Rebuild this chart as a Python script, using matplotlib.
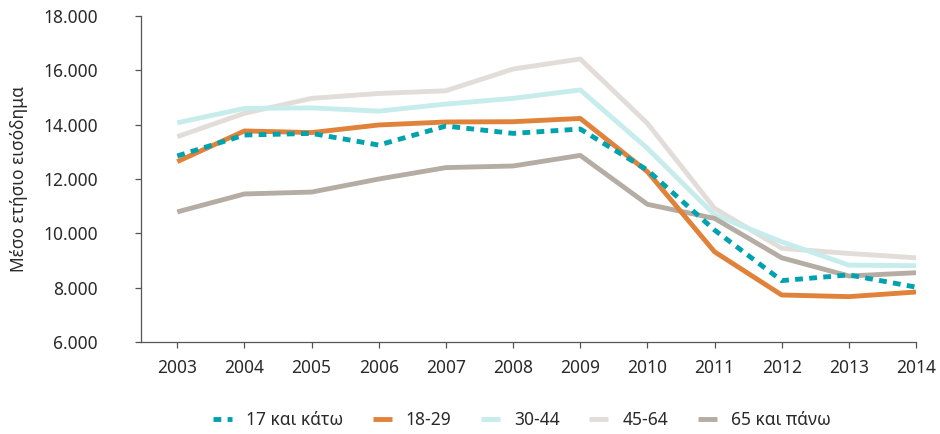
import matplotlib.pyplot as plt
from matplotlib.ticker import FuncFormatter

plt.rcParams['font.family'] = ['Noto Sans', 'DejaVu Sans']

years = [2003, 2004, 2005, 2006, 2007, 2008, 2009, 2010, 2011, 2012, 2013, 2014]

# μέσο ετήσιο εισόδημα ανά ηλικιακή ομάδα
age_17 = [12850, 13620, 13680, 13250, 13950, 13680, 13840, 12330, 10120, 8260, 8470, 8020]
age_18_29 = [12640, 13770, 13710, 13990, 14100, 14110, 14230, 12270, 9320, 7730, 7670, 7840]
age_30_44 = [14070, 14600, 14620, 14500, 14760, 14970, 15280, 13130, 10680, 9690, 8830, 8810]
age_45_64 = [13560, 14420, 14970, 15150, 15250, 16050, 16420, 14050, 10920, 9450, 9260, 9100]
age_65 = [10790, 11450, 11520, 12000, 12420, 12480, 12870, 11070, 10550, 9100, 8430, 8550]

labels = ['17 και κάτω', '18-29', '30-44', '45-64', '65 και πάνω']
colors = ['#00A3AD', '#E0823A', '#C6ECEC', '#E2DDD9', '#B5ADA4']

fig = plt.figure(figsize=(9.4, 4.34), dpi=100)
ax = fig.add_axes([0.15, 0.212, 0.8245, 0.751])

lw = 3.5
h45, = ax.plot(years, age_45_64, color=colors[3], lw=lw, solid_capstyle='butt')
h30, = ax.plot(years, age_30_44, color=colors[2], lw=lw, solid_capstyle='butt')
h65, = ax.plot(years, age_65, color=colors[4], lw=lw, solid_capstyle='butt')
h18, = ax.plot(years, age_18_29, color=colors[1], lw=lw, solid_capstyle='butt')
h17, = ax.plot(years, age_17, color=colors[0], lw=lw, dashes=(1.6, 1.3), dash_capstyle='butt')

ax.set_xlim(2002.46, 2014)
ax.set_ylim(6000, 18000)
ax.set_xticks(years)
ax.set_yticks(range(6000, 18001, 2000))
ax.yaxis.set_major_formatter(FuncFormatter(lambda v, p: f'{int(v):,}'.replace(',', '.')))

for s in ['top', 'right']:
    ax.spines[s].set_visible(False)
for s in ['left', 'bottom']:
    ax.spines[s].set_color('#555555')
    ax.spines[s].set_linewidth(0.9)

fs = 12.5
txt = '#2a2a2a'
ax.tick_params(axis='y', length=4, width=0.9, color='#555555', pad=27, labelsize=fs, labelcolor=txt)
ax.tick_params(axis='x', length=4, width=0.9, color='#555555', pad=8, labelsize=fs, labelcolor=txt)

ax.set_ylabel('Μέσο ετήσιο εισόδημα', fontsize=fs, color=txt, labelpad=11)

fig.legend([h17, h18, h30, h45, h65], labels, loc='center', bbox_to_anchor=(0.555, 0.032),
           ncol=5, frameon=False, fontsize=fs, handlelength=1.1, handletextpad=0.8,
           columnspacing=1.7, labelcolor=txt)

fig.savefig('out.png', dpi=100)
